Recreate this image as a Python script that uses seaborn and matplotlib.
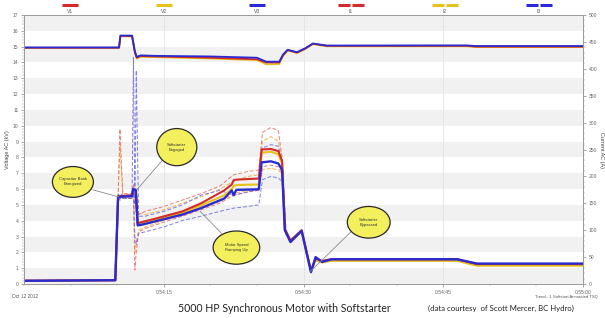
import numpy as np
import pandas as pd
import matplotlib
matplotlib.use("Agg")
import matplotlib.pyplot as plt
import seaborn as sns
from matplotlib.patches import Ellipse
from matplotlib.lines import Line2D
from matplotlib.ticker import MultipleLocator, FixedLocator

sns.set_theme(style="white")
plt.rcParams['font.family'] = ['Liberation Sans', 'DejaVu Sans']

# ---------------- data ----------------
# voltages (kV), time in seconds after 0:54:00
t_volt = [0, 10.2, 10.35, 11.6, 11.9, 12.1, 12.5, 14, 20, 25, 26, 27.4, 27.8, 28.3,
          29.3, 30.2, 31, 32.5, 47.5, 48.5, 60]
V1 = [14.93, 14.93, 15.68, 15.66, 14.65, 14.30, 14.40, 14.38, 14.30, 14.20, 14.00, 14.00,
      14.45, 14.78, 14.62, 14.88, 15.18, 15.05, 15.05, 15.00, 15.00]
V2 = [14.92, 14.92, 15.66, 15.64, 14.60, 14.25, 14.36, 14.34, 14.25, 14.15, 13.88, 13.90,
      14.40, 14.75, 14.60, 14.85, 15.15, 15.02, 15.02, 14.97, 14.97]
V3 = [14.95, 14.95, 15.70, 15.70, 14.70, 14.35, 14.45, 14.42, 14.38, 14.30, 14.05, 14.05,
      14.50, 14.80, 14.65, 14.90, 15.20, 15.07, 15.08, 15.04, 15.04]

# currents (A)
t_cur = [0, 9.8, 10.1, 11.6, 11.7, 12.0, 12.2, 12.6, 14, 17, 19, 21.5, 22.3, 22.5, 22.8,
         25.2, 25.5, 26.5, 27.3, 27.7, 28.0, 28.6, 29.8, 30.8, 31.3, 32.0, 33.0, 46.5, 48.6, 60]
I1 = [6, 7, 163, 165, 176, 174, 113, 115, 121, 135, 150, 174, 185, 193, 194,
      196, 250, 251, 247, 229, 103, 81, 100, 25, 47, 43, 46, 46, 37, 37]
I2 = [6, 7, 162, 163, 175, 174, 112, 113, 118, 132, 146, 165, 176, 182, 184,
      185, 244, 246, 241, 224, 101, 79, 97, 24, 44, 40, 43, 43, 34, 34]
I3 = [6, 7, 162, 163, 176, 175, 109, 110, 116, 129, 141, 159, 174, 165, 175,
      176, 226, 228, 224, 212, 100, 78, 99, 22, 50, 41, 46, 46, 38, 38]

# current envelopes (A)
t_env = [9.8, 10.1, 10.3, 10.6, 11.6, 11.75, 11.9, 12.05, 12.3, 13, 15, 17, 19, 21,
         22.5, 24, 25.2, 25.6, 26.5, 27.3, 27.7, 28.1]
I1_hi = [9, 165, 288, 168, 168, 185, 162, 135, 129, 135, 144, 156, 168, 182,
         203, 209, 212, 282, 291, 285, 235, 106]
I1_lo = [6, 159, 156, 159, 159, 171, 26, 59, 97, 103, 115, 126, 138, 150,
         165, 171, 174, 218, 221, 218, 206, 94]
I2_hi = [9, 162, 259, 165, 165, 182, 159, 132, 132, 129, 138, 150, 162, 176,
         191, 200, 203, 265, 274, 265, 229, 103]
I2_lo = [6, 159, 156, 159, 159, 171, 59, 76, 100, 106, 118, 129, 141, 153,
         168, 174, 176, 212, 215, 212, 203, 91]
I3_hi = [9, 165, 168, 165, 165, 421, 147, 397, 126, 126, 135, 147, 165, 174,
         165, 171, 176, 253, 259, 256, 224, 103]
I3_lo = [6, 159, 159, 159, 159, 171, 88, 74, 94, 97, 106, 118, 126, 135,
         141, 144, 147, 194, 200, 197, 191, 91]

x_ticks = [15, 30, 45, 60]
x_labels = ["0:54:15", "0:54:30", "0:54:45", "0:55:00"]

RED = "#d42a2a"
YEL = "#e6c21c"
BLU = "#2a2ad0"
RED_L = "#e8706a"
YEL_L = "#f2a93b"
BLU_L = "#7070e0"

# ---------------- figure ----------------
fig = plt.figure(figsize=(6.05, 3.18), dpi=100)
fig.patch.set_facecolor("white")
ax = fig.add_axes([24 / 605, 1 - 284 / 318, (583 - 24) / 605, (284 - 15) / 318])
ax2 = ax.twinx()
ax.set_facecolor("white")

for k in range(0, 17, 2):
    ax.axhspan(k, k + 1, color="#f1f1f1", lw=0, zorder=0)
for xv in [15, 30, 45]:
    ax.axvline(xv, color="#e2e2e2", lw=0.6, zorder=0.5)

# voltages
for y, c in [(V2, YEL), (V1, RED), (V3, BLU)]:
    sns.lineplot(x=t_volt, y=y, ax=ax, color=c, lw=1.3, estimator=None, sort=False)

# current envelopes
for y, c in [(I2_hi, YEL_L), (I2_lo, YEL_L), (I1_hi, RED_L), (I1_lo, RED_L),
             (I3_hi, BLU_L), (I3_lo, BLU_L)]:
    sns.lineplot(x=t_env, y=y, ax=ax2, color=c, lw=0.7, linestyle=(0, (4, 2)),
                 estimator=None, sort=False, alpha=0.9)

# main currents
for y, c, w in [(I2, YEL, 1.5), (I1, RED, 1.5), (I3, BLU, 1.7)]:
    sns.lineplot(x=t_cur, y=y, ax=ax2, color=c, lw=w, estimator=None, sort=False)

ax.set_xlim(0, 60)
ax.set_ylim(0, 17)
ax2.set_ylim(0, 500)

ax.xaxis.set_major_locator(FixedLocator(x_ticks))
ax.set_xticks(x_ticks)
ax.set_xticklabels(x_labels)
ax.xaxis.set_minor_locator(MultipleLocator(5))
ax.yaxis.set_major_locator(MultipleLocator(1))
ax.yaxis.set_minor_locator(MultipleLocator(0.2))
ax2.yaxis.set_major_locator(MultipleLocator(50))
ax2.yaxis.set_minor_locator(MultipleLocator(10))

for a in (ax, ax2):
    a.tick_params(which="major", labelsize=3.6, colors="#666666", length=2.5, width=0.4,
                  pad=1.5, direction="out")
    a.tick_params(which="minor", length=1.3, width=0.3, colors="#888888", direction="out")
    for s in a.spines.values():
        s.set_color("#9a9a9a")
        s.set_linewidth(0.6)
ax.tick_params(axis="x", which="both", bottom=True)
ax.tick_params(axis="y", which="both", left=True)
ax2.tick_params(axis="y", which="both", right=True)
ax.set_xlabel("")
ax.set_ylabel("Voltage AC (kV)", fontsize=4, color="#444444", labelpad=2)
ax2.set_ylabel("Current AC (A)", fontsize=4, color="#444444", rotation=270, labelpad=5)

# annotations (time s, kV coordinates)
annotations = [
    ("Capacitor Bank\nEnergized", 5.25, 6.45, 4.4, 1.95, (7.4, 5.95), (10.2, 5.5)),
    ("Softstarter\nEngaged", 16.4, 8.65, 4.3, 2.35, (14.9, 7.85), (12.1, 5.95)),
    ("Motor Speed\nRamping Up", 22.8, 2.3, 5.0, 2.1, (21.2, 3.2), (18.9, 4.6)),
    ("Softstarter\nBypassed", 37.0, 3.9, 4.6, 2.0, (35.1, 3.3), (30.75, 0.8)),
]
for txt, cx, cy, w, h, p0, p1 in annotations:
    ax2.add_line(Line2D([p0[0], p1[0]], [p0[1], p1[1]], transform=ax.transData,
                        color="#8a8a8a", lw=0.6, zorder=6))
    ax2.add_patch(Ellipse((cx, cy), w, h, transform=ax.transData, facecolor="#f4ef5c",
                          edgecolor="#2a2a2a", lw=0.9, zorder=7))
    ax2.text(cx, cy, txt, transform=ax.transData, ha="center", va="center",
             fontsize=3.0, color="#333333", zorder=8, linespacing=1.3)

ax.set_xlim(0, 60)
ax.set_ylim(0, 17)
ax2.set_ylim(0, 500)

# legend at top
legend_items = [("V1", RED, False, 70), ("V2", YEL, False, 164), ("V3", BLU, False, 257),
                ("I1", RED, True, 351), ("I2", YEL, True, 445), ("I3", BLU, True, 539)]
yb = 1 - 5 / 318
for lab, c, dashed, xc in legend_items:
    if dashed:
        segs = [(xc - 13, xc - 1), (xc + 1, xc + 13)]
    else:
        segs = [(xc - 8, xc + 8)]
    for a0, a1 in segs:
        fig.add_artist(Line2D([a0 / 605, a1 / 605], [yb, yb], transform=fig.transFigure,
                              color=c, lw=2.2, solid_capstyle="butt"))
    fig.text(xc / 605, 1 - 11.5 / 318, lab, ha="center", va="center", fontsize=3.6,
             color="#555555")

# footer texts
fig.text(12 / 605, 1 - 296 / 318, "Oct 12 2012", fontsize=3.4, color="#555555",
         ha="left", va="center")
fig.text(543 / 605, 1 - 297 / 318, "Trend - 1", fontsize=3.0, color="#555555",
         ha="center", va="center")
fig.text(575 / 605, 1 - 297 / 318, "Softstart Annotated TSQ", fontsize=3.0,
         color="#555555", ha="center", va="center")
fig.text(284.5 / 605, 1 - 308 / 318, "5000 HP Synchronous Motor with Softstarter",
         fontsize=7.6, color="#222222", ha="center", va="center",
         family=["Lato", "DejaVu Sans"])
fig.text(501 / 605, 1 - 308 / 318, "(data courtesy  of Scott Mercer, BC Hydro)",
         fontsize=5.6, color="#222222", ha="center", va="center",
         family=["Lato", "DejaVu Sans"])

fig.savefig("out.png", dpi=100, facecolor="white")
